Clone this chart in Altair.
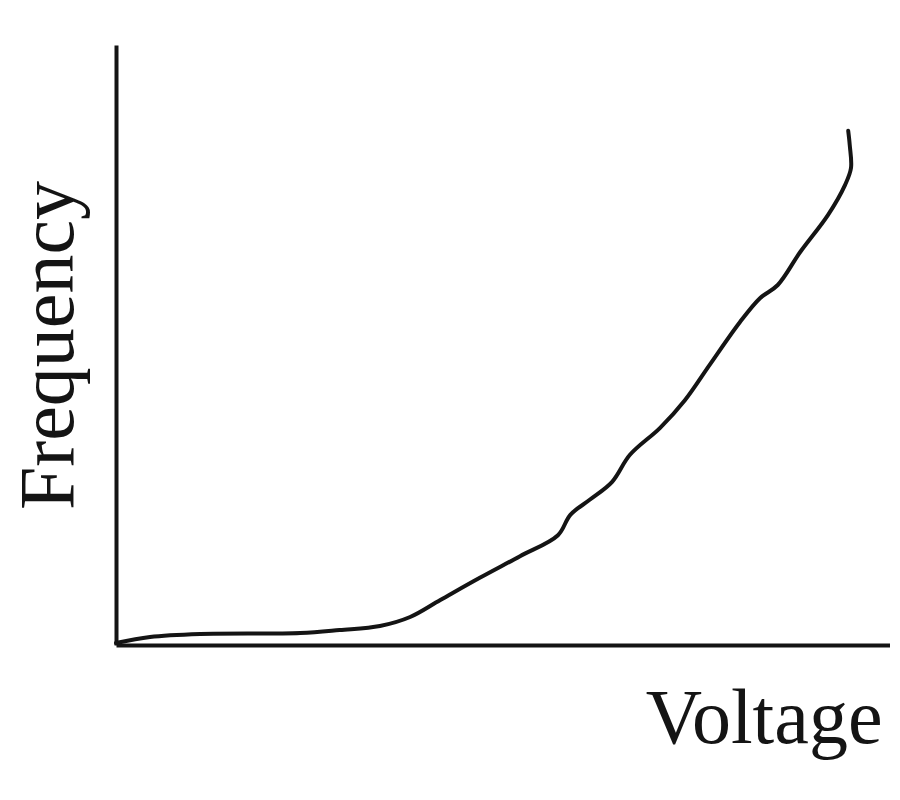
import altair as alt
import pandas as pd

# Values (arbitrary units, 0-100 on both axes)
voltage = [0, 4.4, 10.9, 23.8, 28.9, 34.1, 38.0, 41.9, 47.0, 52.2, 57.1, 58.7, 61.2,
           64.1, 66.4, 70.3, 73.5, 76.7, 80.6, 83.2, 85.5, 88.4, 92.0, 94.2, 94.96,
           94.8, 94.6]
frequency = [0.33, 1.33, 1.83, 2.0, 2.5, 3.17, 4.67, 7.5, 11.2, 14.8, 18.3, 21.7, 24.2,
             27.2, 31.7, 36.2, 40.8, 46.7, 53.8, 57.8, 60.0, 65.5, 71.7, 76.7, 79.5,
             83.3, 85.7]

df = pd.DataFrame({"Voltage": voltage, "Frequency": frequency,
                   "step": list(range(len(voltage)))})

ink = "#141414"
font = "Liberation Serif"

chart = alt.Chart(df).mark_line(
    color=ink, strokeWidth=4, strokeCap="round", strokeJoin="round",
    interpolate="catmull-rom", clip=False
).encode(
    x=alt.X("Voltage:Q", scale=alt.Scale(domain=[0, 100], nice=False, zero=True),
            axis=alt.Axis(title="Voltage", ticks=False, labels=False, grid=False,
                          domainColor=ink, domainWidth=4,
                          titleFont=font, titleFontSize=78, titleFontWeight="normal",
                          titleColor=ink, titleAlign="right", titleBaseline="alphabetic",
                          titleX=766, titleY=97)),
    y=alt.Y("Frequency:Q", scale=alt.Scale(domain=[0, 100], nice=False, zero=True),
            axis=alt.Axis(title="Frequency", ticks=False, labels=False, grid=False,
                          domainColor=ink, domainWidth=4,
                          titleFont=font, titleFontSize=78, titleFontWeight="normal",
                          titleColor=ink, titleAlign="center", titleBaseline="alphabetic",
                          titleAngle=270, titleX=-44, titleY=300)),
    order="step:Q",
).properties(
    width=774, height=600,
    autosize=alt.AutoSizeParams(type="none"),
    padding={"left": 108, "top": 37, "right": 0, "bottom": 130},
).configure(background="white").configure_view(strokeWidth=0, stroke="transparent")

chart.save("out.html", embed_options={"renderer": "svg", "actions": False})
